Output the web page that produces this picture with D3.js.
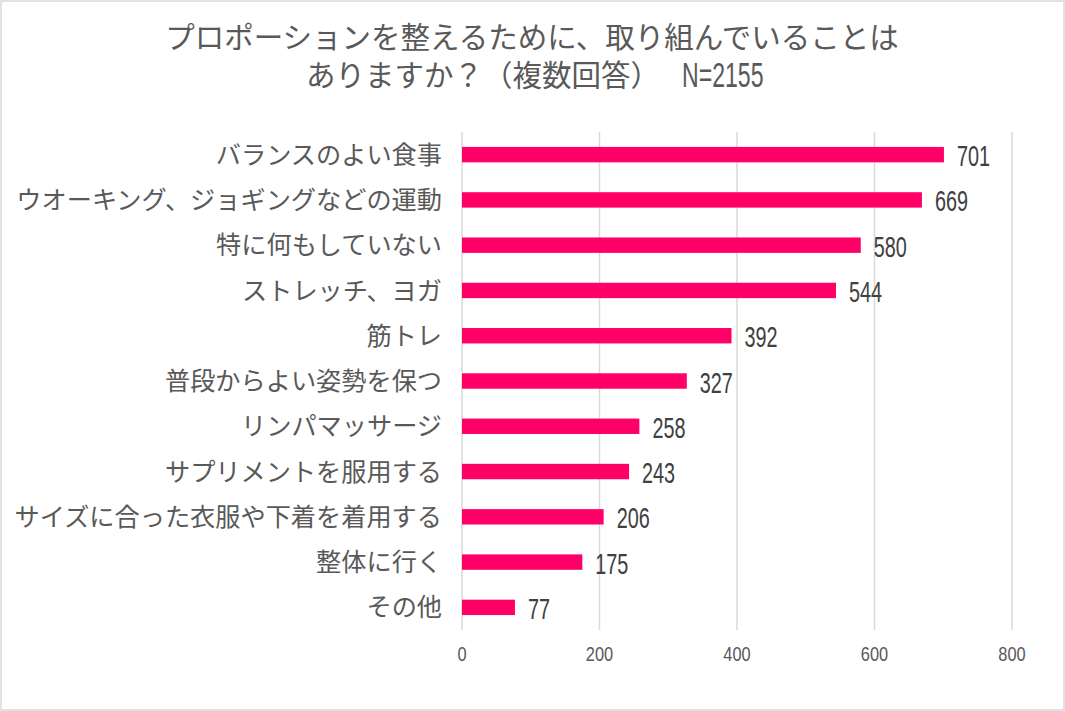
<!DOCTYPE html>
<html>
<head>
<meta charset="utf-8">
<script src="https://cdn.jsdelivr.net/npm/d3@7"></script>
<style>
  body { margin: 0; background: #fff; }
  .cat { font-family: "Noto Sans CJK JP", sans-serif; fill: #595959; font-size: 25.2px; }
  .title { font-family: "Noto Sans CJK JP", sans-serif; fill: #595959; font-size: 29.5px; }
  .num { font-family: "Liberation Sans", Arial, sans-serif; }
  .val { fill: #404040; font-size: 30px; }
  .tick-lbl { fill: #595959; font-size: 21px; }
  .title-n { fill: #595959; font-size: 35px; }
  .grid { stroke: #d9d9d9; stroke-width: 1.5; }
</style>
</head>
<body>
<svg id="chart"></svg>
<script>
const categories = [
  'バランスのよい食事',
  'ウオーキング、ジョギングなどの運動',
  '特に何もしていない',
  'ストレッチ、ヨガ',
  '筋トレ',
  '普段からよい姿勢を保つ',
  'リンパマッサージ',
  'サプリメントを服用する',
  'サイズに合った衣服や下着を着用する',
  '整体に行く',
  'その他'
]
const counts = [ 701, 669, 580, 544, 392, 327, 258, 243, 206, 175, 77 ]
const ticks = [ 0, 200, 400, 600, 800 ]
const titleLine1 = 'プロポーションを整えるために、取り組んでいることは'
const titleLine2 = 'ありますか？（複数回答）'
const titleN = 'N=2155'

const width = 1065
const height = 711

const svg = d3.select('#chart')
    .attr('width', width)
    .attr('height', height)

// outer frame
svg.append('rect')
    .attr('x', 1)
    .attr('y', 1)
    .attr('width', width - 2)
    .attr('height', height - 2)
    .attr('fill', '#fff')
    .attr('stroke', '#d9d9d9')
    .attr('stroke-width', 1.5)

const xScale = d3.scaleLinear()
    .domain([ 0, 800 ])
    .range([ 462, 1012 ])

const yScale = d3.scaleBand()
    .domain(categories)
    .range([ 132, 630 ])
    .paddingInner(0.66)
    .paddingOuter(0.33)

// title
svg.append('text')
    .attr('class', 'title')
    .attr('x', 532)
    .attr('y', 48)
    .attr('text-anchor', 'middle')
    .text(titleLine1)

const t2 = svg.append('text')
    .attr('class', 'title')
    .attr('x', 306)
    .attr('y', 86)
    .text(titleLine2)

// numbers are drawn in a squeezed sans to look like the condensed face
svg.append('text')
    .attr('class', 'num title-n')
    .attr('transform', `translate(${306 + t2.node().getComputedTextLength() + 22},87) scale(0.66,1)`)
    .text(titleN)

svg.selectAll('.grid')
    .data(ticks)
    .enter()
    .append('line')
    .attr('class', 'grid')
    .attr('x1', d => xScale(d))
    .attr('x2', d => xScale(d))
    .attr('y1', 132)
    .attr('y2', 630)

svg.selectAll('.tick-lbl')
    .data(ticks)
    .enter()
    .append('text')
    .attr('class', 'num tick-lbl')
    .attr('transform', d => `translate(${xScale(d)},661) scale(0.78,1)`)
    .attr('text-anchor', 'middle')
    .text(d => d)

svg.selectAll('.bar')
    .data(counts)
    .enter()
    .append('rect')
    .attr('class', 'bar')
    .attr('x', xScale(0))
    .attr('y', (d, i) => yScale(categories[i]))
    .attr('width', d => xScale(d) - xScale(0))
    .attr('height', yScale.bandwidth())
    .attr('fill', '#ff0066')

svg.selectAll('.val')
    .data(counts)
    .enter()
    .append('text')
    .attr('class', 'num val')
    .attr('transform', (d, i) => `translate(${xScale(d) + 13},${yScale(categories[i]) + yScale.bandwidth() / 2 + 11.5}) scale(0.66,1)`)
    .text(d => d)

svg.selectAll('.cat')
    .data(categories)
    .enter()
    .append('text')
    .attr('class', 'cat')
    .attr('x', 442)
    .attr('y', d => yScale(d) + yScale.bandwidth() / 2)
    .attr('dy', '0.36em')
    .attr('text-anchor', 'end')
    .text(d => d)
</script>
</body>
</html>
